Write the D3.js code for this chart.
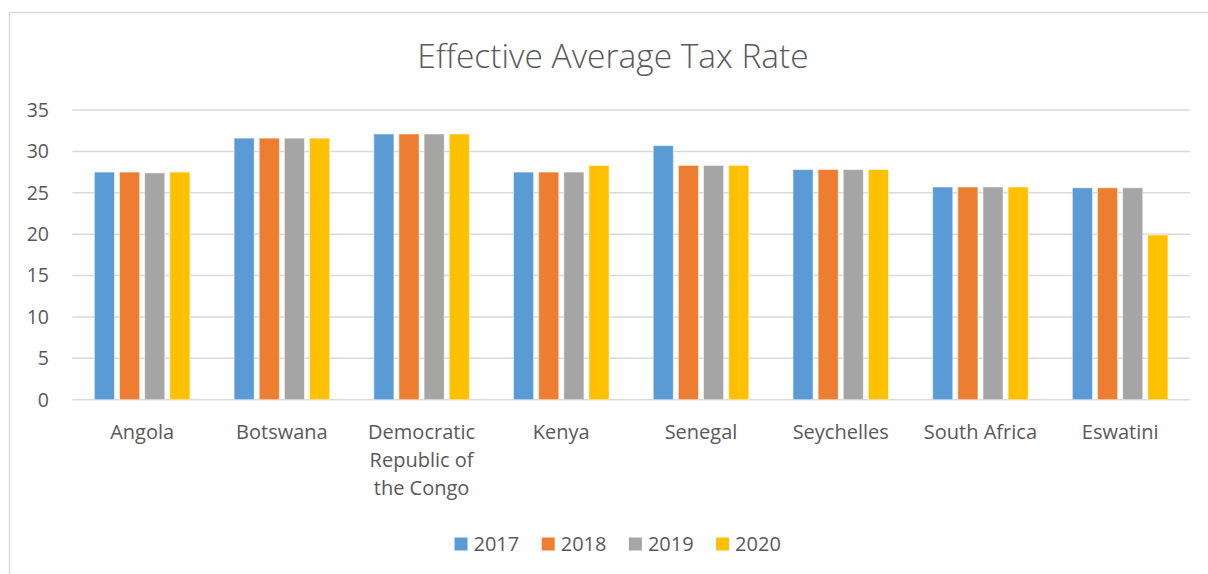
<!DOCTYPE html>
<html>
<head>
<meta charset="utf-8">
<script src="https://cdn.jsdelivr.net/npm/d3@7"></script>
<style>
  body { margin: 0; background: #fff; }
  text { font-family: "Open Sans", sans-serif; fill: #595959; }
</style>
</head>
<body>
<div id="chart"></div>
<script>
// data
var countries = ["Angola", "Botswana", "Democratic Republic of the Congo", "Kenya", "Senegal", "Seychelles", "South Africa", "Eswatini"];
var countryLines = [["Angola"], ["Botswana"], ["Democratic", "Republic of", "the Congo"], ["Kenya"], ["Senegal"], ["Seychelles"], ["South Africa"], ["Eswatini"]];
var years = ["2017", "2018", "2019", "2020"];
var rate2017 = [27.5, 31.6, 32.1, 27.5, 30.7, 27.8, 25.7, 25.6];
var rate2018 = [27.5, 31.6, 32.1, 27.5, 28.3, 27.8, 25.7, 25.6];
var rate2019 = [27.4, 31.6, 32.1, 27.5, 28.3, 27.8, 25.7, 25.6];
var rate2020 = [27.5, 31.6, 32.1, 28.3, 28.3, 27.8, 25.7, 19.9];
var yTicks = [0, 5, 10, 15, 20, 25, 30, 35];
var colors = ["#5b9bd5", "#ed7d31", "#a5a5a5", "#ffc000"];

var series = [rate2017, rate2018, rate2019, rate2020];

var width = 1208;
var height = 574;
var margin = { left: 72.3, right: 18, top: 110, bottom: 174.3 };

var svg = d3.select("#chart")
    .append("svg")
    .attr("width", width)
    .attr("height", height);

// chart border (runs off the right and bottom of the picture)
svg.append("rect")
    .attr("x", 9.5)
    .attr("y", 12.5)
    .attr("width", width + 20)
    .attr("height", height + 20)
    .attr("fill", "none")
    .attr("stroke", "#d9d9d9")
    .attr("stroke-width", 1.5);

svg.append("text")
    .attr("x", 613)
    .attr("y", 68)
    .attr("text-anchor", "middle")
    .style("font-size", "33.5px")
    .style("font-weight", 300)
    .text("Effective Average Tax Rate");

var x0 = d3.scaleBand()
    .domain(countries)
    .range([margin.left, width - margin.right])
    .padding(0);

var bw = x0.bandwidth();
var x1 = d3.scaleBand()
    .domain(years)
    .range([bw * 0.158, bw * 0.842])
    .paddingInner(0.2)
    .paddingOuter(0);

var y = d3.scaleLinear()
    .domain([0, 35])
    .range([height - margin.bottom, margin.top]);

// gridlines
svg.append("g")
    .selectAll("line")
    .data(yTicks)
    .enter()
    .append("line")
    .attr("x1", margin.left)
    .attr("x2", width - margin.right)
    .attr("y1", d => y(d))
    .attr("y2", d => y(d))
    .attr("stroke", "#d9d9d9")
    .attr("stroke-width", 1.5);

// y tick labels
svg.append("g")
    .selectAll("text")
    .data(yTicks)
    .enter()
    .append("text")
    .attr("x", 49)
    .attr("y", d => y(d))
    .attr("dy", "0.35em")
    .attr("text-anchor", "end")
    .style("font-size", "19.5px")
    .text(d => d);

// bars
var groups = svg.append("g")
    .selectAll("g")
    .data(countries)
    .enter()
    .append("g")
    .attr("transform", d => "translate(" + x0(d) + ",0)");

groups.selectAll("rect")
    .data((d, i) => years.map((yr, j) => ({ year: yr, value: series[j][i], color: colors[j] })))
    .enter()
    .append("rect")
    .attr("x", d => x1(d.year))
    .attr("width", x1.bandwidth())
    .attr("y", d => y(d.value))
    .attr("height", d => y(0) - y(d.value))
    .attr("fill", d => d.color)
    .attr("stroke", "#fff")
    .attr("stroke-opacity", 0.5)
    .attr("stroke-width", 1);

// category labels
var labels = svg.append("g")
    .selectAll("text")
    .data(countries)
    .enter()
    .append("text")
    .attr("text-anchor", "middle")
    .attr("x", d => x0(d) + bw / 2)
    .attr("y", 439)
    .style("font-size", "20px");

labels.selectAll("tspan")
    .data((d, i) => countryLines[i])
    .enter()
    .append("tspan")
    .attr("x", function() { return d3.select(this.parentNode).attr("x"); })
    .attr("dy", (d, i) => i === 0 ? 0 : 28)
    .text(d => d);

// legend
var legend = svg.append("g")
    .attr("transform", "translate(454.5,0)")
    .selectAll("g")
    .data(years)
    .enter()
    .append("g")
    .attr("transform", (d, i) => "translate(" + i * 87.2 + ",0)");

legend.append("rect")
    .attr("x", 0)
    .attr("y", 537.5)
    .attr("width", 13)
    .attr("height", 13)
    .attr("fill", (d, i) => colors[i]);

legend.append("text")
    .attr("x", 19)
    .attr("y", 543.5)
    .attr("dy", "0.35em")
    .style("font-size", "20px")
    .text(d => d);
</script>
</body>
</html>
